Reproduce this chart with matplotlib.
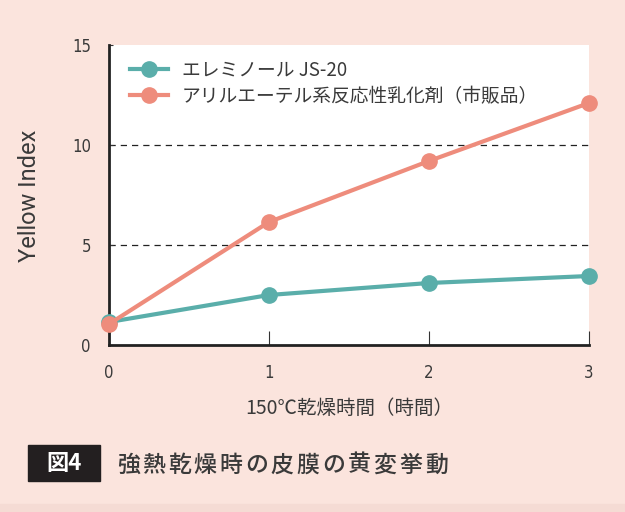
import matplotlib.pyplot as plt
from matplotlib.patches import Rectangle

plt.rcParams['font.family'] = ['Noto Sans CJK JP', 'DejaVu Sans']

hours = [0, 1, 2, 3]
js20 = [1.15, 2.5, 3.1, 3.45]
aryl = [1.05, 6.15, 9.2, 12.1]
labels = ['エレミノール JS-20', 'アリルエーテル系反応性乳化剤（市販品）']
title = '強熱乾燥時の皮膜の黄変挙動'
teal = '#5aaeaa'
salmon = '#ee8c7c'
bg = '#fbe4dd'
txt = '#3a3a3a'

fig = plt.figure(figsize=(6.25, 5.12), dpi=100, facecolor=bg)
fig.patches.append(Rectangle((0, 0), 1, 8 / 512, transform=fig.transFigure, color='#f5dbd4', zorder=0))

ax = fig.add_axes([109 / 625, 167 / 512, 480 / 625, 300 / 512])
ax.set_facecolor('white')
ax.plot(hours, js20, color=teal, lw=3, marker='o', ms=11, clip_on=False, zorder=3, label=labels[0])
ax.plot(hours, aryl, color=salmon, lw=3, marker='o', ms=11, clip_on=False, zorder=4, label=labels[1])
for yv in [5, 10]:
    ax.axhline(yv, color='#222222', lw=0.9, ls=(0, (5, 4)), zorder=1)

ax.set_xlim(0, 3)
ax.set_ylim(0, 15)
ax.set_xticks(hours)
ax.set_yticks([0, 5, 10, 15])
for s in ['top', 'right']:
    ax.spines[s].set_visible(False)
for s in ['left', 'bottom']:
    ax.spines[s].set_color('#222222')
    ax.spines[s].set_linewidth(2)
ax.tick_params(axis='x', direction='in', length=10, width=0.8, color='#333333', pad=14)
ax.tick_params(axis='y', direction='in', length=3, width=0.8, color='#333333', pad=13)
for t in ax.get_xticklabels() + ax.get_yticklabels():
    t.set_family('DejaVu Sans')
    t.set_stretch('condensed')
    t.set_fontsize(12)
    t.set_color(txt)

ax.set_ylabel('Yellow Index', fontsize=17, color=txt, family=['Roboto', 'DejaVu Sans'])
ax.yaxis.set_label_coords((41 - 109) / 480, (345 - 196) / 300)
ax.set_xlabel('150℃乾燥時間（時間）', fontsize=14, color=txt)
ax.xaxis.set_label_coords((349 - 109) / 480, (345 - 408) / 300)
ax.xaxis.label.set_va('center')

leg = ax.legend(loc='upper left', bbox_to_anchor=(0.044, 0.95), frameon=False, fontsize=13.5,
                handlelength=2.0, handletextpad=0.75, labelspacing=0.25, borderpad=0, borderaxespad=0)
for t in leg.get_texts():
    t.set_color(txt)

fig.patches.append(Rectangle((28 / 625, (512 - 481) / 512), 72 / 625, 36 / 512,
                             transform=fig.transFigure, color='#231f20', zorder=1))
fig.text(64 / 625, (512 - 464) / 512, '図4', color='white', fontsize=16, fontweight='bold',
         ha='center', va='center')
for i, ch in enumerate(title):
    fig.text((128 + i * 25.7) / 625, (512 - 465) / 512, ch, color=txt,
             fontsize=16.5, fontweight='medium', ha='center', va='center')

fig.savefig('out.png', dpi=100, facecolor=bg)
